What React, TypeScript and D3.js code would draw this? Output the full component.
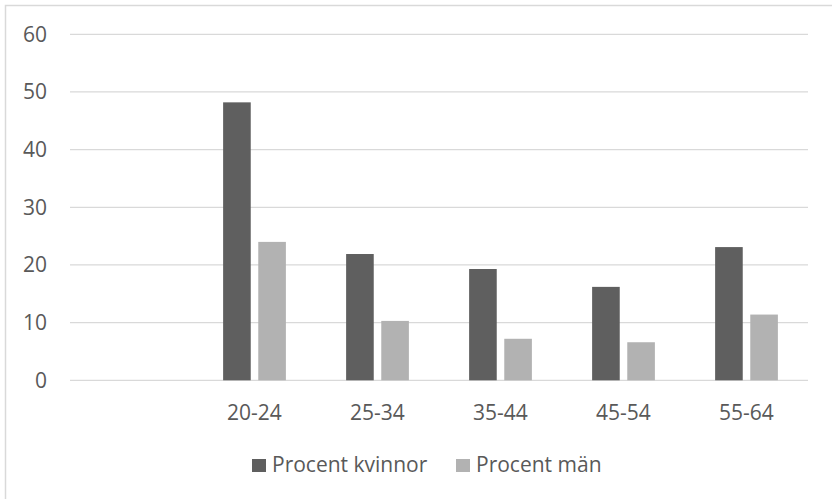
import React, { useRef, useEffect } from 'react';
import * as d3 from 'd3';

const categories = ['', '20-24', '25-34', '35-44', '45-54', '55-64'];
const kvinnor: (number | null)[] = [null, 48.2, 21.9, 19.3, 16.2, 23.1];
const man: (number | null)[] = [null, 24.0, 10.3, 7.2, 6.6, 11.4];
const seriesNames = ['Procent kvinnor', 'Procent män'];
const seriesColors = ['#5f5f5f', '#b2b2b2'];
const yTicks = [0, 10, 20, 30, 40, 50, 60];

const W = 832;
const H = 499;
const FONT = '"Open Sans", "Noto Sans", sans-serif';
const FS = 21;

const App: React.FC = () => {
  const ref = useRef<SVGSVGElement>(null);

  useEffect(() => {
    document.body.style.margin = '0';
    const svg = d3.select(ref.current);
    svg.selectAll('*').remove();

    svg.append('rect')
      .attr('width', W).attr('height', H).attr('fill', '#fff');

    // chart area border (right and bottom edges fall outside the picture)
    svg.append('rect')
      .attr('x', 5.5).attr('y', 5.5)
      .attr('width', 850).attr('height', 520)
      .attr('fill', 'none')
      .attr('stroke', '#d9d9d9')
      .attr('stroke-width', 1.5);

    const x = d3.scaleBand<string>().domain(categories).range([70, 808]);
    const y = d3.scaleLinear().domain([0, 60]).range([380.3, 34.3]);
    const xs = d3.scaleBand<string>()
      .domain(seriesNames)
      .range([0, x.bandwidth()])
      .paddingInner(0.214)
      .paddingOuter(0.857);

    const g = svg.append('g');

    // gridlines
    g.selectAll('line.grid')
      .data(yTicks)
      .enter()
      .append('line')
      .attr('x1', 70).attr('x2', 808)
      .attr('y1', d => y(d)).attr('y2', d => y(d))
      .attr('stroke', '#d9d9d9')
      .attr('stroke-width', 1.3);

    g.selectAll('text.ytick')
      .data(yTicks)
      .enter()
      .append('text')
      .attr('x', 47)
      .attr('y', d => y(d))
      .attr('dy', '0.35em')
      .attr('text-anchor', 'end')
      .attr('font-family', FONT)
      .attr('font-size', FS)
      .attr('fill', '#595959')
      .text(d => d);

    const series = [kvinnor, man];
    series.forEach((vals, si) => {
      const rows = categories
        .map((c, i) => ({ c, v: vals[i] }))
        .filter(d => d.v != null) as { c: string; v: number }[];
      g.selectAll(`rect.s${si}`)
        .data(rows)
        .enter()
        .append('rect')
        .attr('x', d => (x(d.c) ?? 0) + (xs(seriesNames[si]) ?? 0))
        .attr('width', xs.bandwidth())
        .attr('y', d => y(d.v))
        .attr('height', d => y(0) - y(d.v))
        .attr('fill', seriesColors[si]);
    });

    g.selectAll('text.xlab')
      .data(categories)
      .enter()
      .append('text')
      .attr('x', d => (x(d) ?? 0) + x.bandwidth() / 2)
      .attr('y', 420)
      .attr('text-anchor', 'middle')
      .attr('font-family', FONT)
      .attr('font-size', FS)
      .attr('fill', '#595959')
      .text(d => d);

    // legend
    const legendX = [252, 456];
    seriesNames.forEach((name, i) => {
      svg.append('rect')
        .attr('x', legendX[i]).attr('y', 459)
        .attr('width', 14).attr('height', 13)
        .attr('fill', seriesColors[i]);
      svg.append('text')
        .attr('x', legendX[i] + 20)
        .attr('y', 472)
        .attr('font-family', FONT)
        .attr('font-size', FS)
        .attr('fill', '#595959')
        .text(name);
    });
  }, []);

  return <svg ref={ref} width={W} height={H} style={{ display: 'block' }}></svg>;
};

export default App;
